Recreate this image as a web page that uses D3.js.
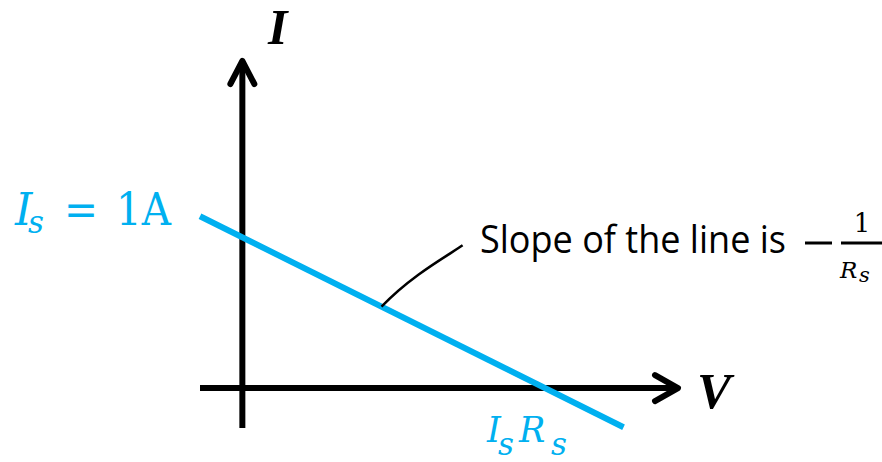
<!DOCTYPE html>
<html>
<head>
<meta charset="utf-8">
<script src="https://cdn.jsdelivr.net/npm/d3@7"></script>
<style>
  body { margin: 0; background: #fff; }
  svg { display: block; }
</style>
</head>
<body>
<svg id="drawing_region"></svg>
<script>
// data (V in volts, I in amps) — Is = 1A, Rs = 1 ohm
const axisV = [-0.14, 1.44];     // horizontal axis extent
const axisI = [-0.265, 2.17];    // vertical axis extent
const lineV = [-0.14, 1.26];     // source line end points
const lineI = [1.14, -0.26];
const noteV = [0.46, 0.56, 0.68, 0.728];  // leader curve (start on line, end at note)
const noteI = [0.54, 0.75, 0.88, 0.947];
const labels = { is: '1A', slope: 'Slope of the line is' };

const W = 882, H = 462;
const blue = '#00b0f0';
const mathFont = '"DejaVu Serif", serif';

const svg = d3.select('#drawing_region')
    .attr('width', W)
    .attr('height', H);

const xscale = d3.scaleLinear().domain(axisV).range([200, 678]);
const yscale = d3.scaleLinear().domain(axisI).range([428, 61]);

const x0 = xscale(0), y0 = yscale(0);

// axes
svg.append('line')
    .attr('x1', xscale(axisV[0])).attr('x2', xscale(axisV[1]))
    .attr('y1', y0).attr('y2', y0)
    .attr('stroke', '#000').attr('stroke-width', 6);
svg.append('line')
    .attr('x1', x0).attr('x2', x0)
    .attr('y1', yscale(axisI[0])).attr('y2', yscale(axisI[1]))
    .attr('stroke', '#000').attr('stroke-width', 6);

// arrow heads
const xt = xscale(axisV[1]), yt = yscale(axisI[1]);
svg.append('path')
    .attr('d', `M${xt - 23},${y0 - 13} L${xt},${y0} L${xt - 23},${y0 + 13}`)
    .attr('fill', 'none').attr('stroke', '#000').attr('stroke-width', 6)
    .attr('stroke-linecap', 'round').attr('stroke-linejoin', 'round');
svg.append('path')
    .attr('d', `M${x0 - 12},${yt + 23} L${x0},${yt} L${x0 + 12},${yt + 23}`)
    .attr('fill', 'none').attr('stroke', '#000').attr('stroke-width', 6)
    .attr('stroke-linecap', 'round').attr('stroke-linejoin', 'round');

// axis names
svg.append('text')
    .attr('x', 268).attr('y', 44)
    .attr('font-family', '"Liberation Serif", serif')
    .attr('font-style', 'italic').attr('font-weight', 'bold')
    .attr('font-size', 50)
    .text('I');
svg.append('text')
    .attr('x', 697).attr('y', 408)
    .attr('font-family', '"Liberation Serif", serif')
    .attr('font-style', 'italic').attr('font-weight', 'bold')
    .attr('font-size', 51)
    .text('V');

// the source line
const pts = lineV.map((v, i) => [v, lineI[i]]);
svg.append('path')
    .datum(pts)
    .attr('d', d3.line().x(d => xscale(d[0])).y(d => yscale(d[1])))
    .attr('fill', 'none').attr('stroke', blue).attr('stroke-width', 6);

// leader to the slope note
const np = noteV.map((v, i) => [xscale(v), yscale(noteI[i])]);
svg.append('path')
    .attr('d', `M${np[0]} C${np[1]} ${np[2]} ${np[3]}`)
    .attr('fill', 'none').attr('stroke', '#000').attr('stroke-width', 2.5);

// Is = 1A
const isText = svg.append('text')
    .attr('y', 225)
    .attr('font-family', mathFont)
    .attr('fill', blue);
isText.append('tspan').attr('x', 15).attr('font-size', 44).attr('font-style', 'italic').text('I');
isText.append('tspan').attr('x', 28).attr('dy', 8).attr('font-size', 31).attr('font-style', 'italic').text('s');
isText.append('tspan').attr('x', 64).attr('dy', -8).attr('font-size', 44).attr('textLength', 34)
    .attr('lengthAdjust', 'spacingAndGlyphs').text('=');
isText.append('tspan').attr('x', 116).attr('font-size', 44).attr('textLength', 55)
    .attr('lengthAdjust', 'spacingAndGlyphs').text(labels.is);

// IsRs
const irText = svg.append('text')
    .attr('y', 442)
    .attr('font-family', mathFont)
    .attr('fill', blue)
    .attr('font-style', 'italic');
irText.append('tspan').attr('x', 487).attr('font-size', 35).text('I');
irText.append('tspan').attr('x', 498).attr('dy', 13).attr('font-size', 31).text('s');
irText.append('tspan').attr('x', 519).attr('dy', -13).attr('font-size', 35).text('R');
irText.append('tspan').attr('x', 551).attr('dy', 13).attr('font-size', 31).text('s');

// slope note
svg.append('text')
    .attr('x', 480).attr('y', 253)
    .attr('font-family', '"Open Sans", sans-serif')
    .attr('font-size', 38)
    .attr('textLength', 306)
    .attr('lengthAdjust', 'spacingAndGlyphs')
    .text(labels.slope);
svg.append('line')
    .attr('x1', 805).attr('x2', 832).attr('y1', 243).attr('y2', 243)
    .attr('stroke', '#000').attr('stroke-width', 3);
svg.append('line')
    .attr('x1', 841).attr('x2', 882).attr('y1', 243).attr('y2', 243)
    .attr('stroke', '#000').attr('stroke-width', 3);
svg.append('text')
    .attr('x', 862).attr('y', 232)
    .attr('text-anchor', 'middle')
    .attr('font-family', mathFont)
    .attr('font-size', 26)
    .text('1');
const rs = svg.append('text')
    .attr('y', 278)
    .attr('font-family', mathFont)
    .attr('font-style', 'italic');
rs.append('tspan').attr('x', 840).attr('font-size', 23).text('R');
rs.append('tspan').attr('x', 859).attr('dy', 4).attr('font-size', 21).text('s');
</script>
</body>
</html>
